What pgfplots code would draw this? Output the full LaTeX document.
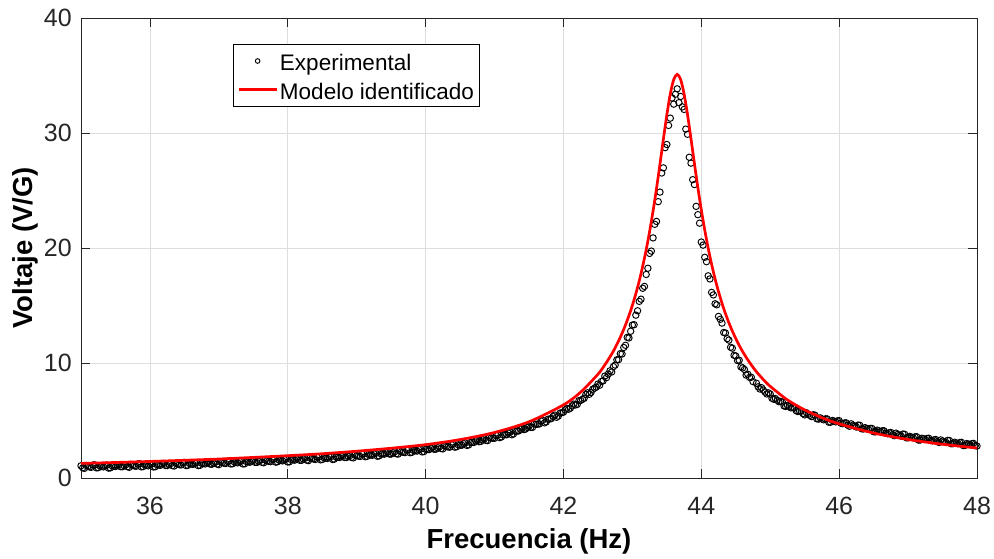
\documentclass[border=0pt]{standalone}
\usepackage{fontspec}
\setmainfont{Liberation Sans}
\usepackage{pgfplots}
\pgfplotsset{compat=1.18}
\definecolor{axgray}{RGB}{38,38,38}
\definecolor{gridgray}{RGB}{222,222,222}
\pgfplotsset{
  legmark/.style={legend image code/.code={\draw[##1, mark size=2.3pt] plot coordinates {(19pt,0pt)};}},
  legline/.style={legend image code/.code={\draw[##1] (0pt,0pt) -- (38pt,0pt);}},
  expdata/.style={only marks, mark=o, mark size=3.2pt, black, mark options={line width=0.95pt, solid}},
}
\begin{document}
\begin{tikzpicture}
\useasboundingbox (-81pt,-80pt) rectangle (913pt,478pt);
\begin{axis}[
  at={(0pt,0pt)}, anchor=south west,
  scale only axis, width=896pt, height=460pt,
  xmin=35, xmax=48, ymin=0, ymax=40,
  xtick={36,38,40,42,44,46,48},
  ytick={0,10,20,30,40},
  tick align=inside, xtick pos=both, ytick pos=both,
  major tick length=9pt,
  tick style={color=axgray, line width=0.75pt},
  axis line style={color=axgray, line width=0.75pt},
  grid=major,
  major grid style={color=gridgray, line width=0.6pt},
  clip mode=individual,
  /pgf/number format/assume math mode=true,
  ticklabel style={font=\fontsize{25}{30}\selectfont, text=axgray, inner sep=0pt},
  xticklabel style={anchor=base, yshift=-36pt},
  yticklabel style={anchor=east, xshift=-9pt},
  xlabel={Frecuencia (Hz)},
  ylabel={Voltaje (V/G)},
  every axis x label/.style={at={(axis description cs:0.5,-0.1522)}, anchor=base, inner sep=0pt, font=\fontsize{27.5}{33}\selectfont\bfseries},
  every axis y label/.style={at={(axis description cs:-0.0536,0.5)}, anchor=base, rotate=90, inner sep=0pt, font=\fontsize{27.5}{33}\selectfont\bfseries},
  legend cell align=left,
  legend style={at={(0.1693,0.9435)}, anchor=north west, draw=black, line width=0.6pt, fill=white,
    inner xsep=4.3pt, inner ysep=4.7pt, row sep=4.6pt, column sep=1pt,
    font=\fontsize{22.5}{27}\selectfont,
    nodes={inner sep=1pt, text height=21pt, text depth=1pt}},
]
\addplot[expdata, legmark]
coordinates {
(35.00,1.06)(35.05,0.84)(35.10,1.01)(35.15,0.93)(35.20,1.14)(35.25,0.90)(35.30,1.01)(35.35,1.08)(35.40,0.86)(35.45,1.07)(35.50,1.00)(35.55,1.16)(35.60,0.98)
(35.65,1.15)(35.70,0.93)(35.75,1.10)(35.80,1.02)(35.85,1.24)(35.90,0.99)(35.95,1.10)(36.00,1.18)(36.05,0.96)(36.10,1.17)(36.15,1.10)(36.20,1.26)(36.25,1.08)
(36.30,1.25)(36.35,1.04)(36.40,1.21)(36.45,1.13)(36.50,1.35)(36.55,1.10)(36.60,1.22)(36.65,1.30)(36.70,1.08)(36.75,1.28)(36.80,1.22)(36.85,1.38)(36.90,1.20)
(36.95,1.37)(37.00,1.16)(37.05,1.34)(37.10,1.26)(37.15,1.48)(37.20,1.24)(37.25,1.35)(37.30,1.43)(37.35,1.22)(37.40,1.43)(37.45,1.37)(37.50,1.53)(37.55,1.35)
(37.60,1.53)(37.65,1.32)(37.70,1.49)(37.75,1.42)(37.80,1.64)(37.85,1.41)(37.90,1.52)(37.95,1.60)(38.00,1.39)(38.05,1.60)(38.10,1.55)(38.15,1.71)(38.20,1.54)
(38.25,1.72)(38.30,1.51)(38.35,1.69)(38.40,1.61)(38.45,1.84)(38.50,1.61)(38.55,1.73)(38.60,1.82)(38.65,1.61)(38.70,1.83)(38.75,1.78)(38.80,1.95)(38.85,1.78)
(38.90,1.95)(38.95,1.75)(39.00,1.93)(39.05,1.87)(39.10,2.10)(39.15,1.88)(39.20,2.00)(39.25,2.10)(39.30,1.89)(39.35,2.11)(39.40,2.07)(39.45,2.24)(39.50,2.08)
(39.55,2.27)(39.60,2.08)(39.65,2.27)(39.70,2.21)(39.75,2.45)(39.80,2.23)(39.85,2.37)(39.90,2.47)(39.95,2.27)(40.00,2.50)(40.05,2.47)(40.10,2.66)(40.15,2.51)
(40.20,2.71)(40.25,2.53)(40.30,2.73)(40.35,2.68)(40.40,2.93)(40.45,2.72)(40.50,2.86)(40.55,2.99)(40.60,2.83)(40.65,3.09)(40.70,3.09)(40.75,3.30)(40.80,3.18)
(40.85,3.40)(40.90,3.25)(40.95,3.47)(41.00,3.45)(41.05,3.74)(41.10,3.57)(41.15,3.76)(41.20,3.91)(41.25,3.76)(41.30,4.06)(41.35,4.09)(41.40,4.34)(41.45,4.25)
(41.50,4.51)(41.55,4.40)(41.60,4.67)(41.65,4.70)(41.70,5.02)(41.75,4.88)(41.80,5.13)(41.85,5.36)(41.90,5.28)(41.95,5.64)(42.00,5.72)(42.05,6.06)(42.10,6.07)
(42.15,6.42)(42.20,6.40)(42.25,6.75)(42.30,6.93)(42.35,7.41)(42.40,7.44)(42.45,7.81)
(42.500,8.17)(42.525,8.07)(42.550,8.40)(42.575,8.45)(42.600,8.86)(42.625,8.73)(42.650,9.04)(42.675,9.32)(42.700,9.22)(42.725,9.69)(42.750,9.82)(42.775,10.28)(42.800,10.29)
(42.825,10.81)(42.850,10.78)(42.875,11.35)(42.900,11.54)(42.925,12.23)(42.950,12.18)(42.975,12.76)(43.000,13.30)(43.025,13.33)(43.050,14.16)(43.075,14.54)(43.100,15.36)(43.125,15.55)
(43.150,16.50)(43.175,16.66)(43.200,17.70)(43.225,18.24)(43.250,19.53)(43.275,19.73)(43.300,20.88)(43.325,22.06)(43.350,22.31)(43.375,24.03)(43.400,24.86)(43.425,26.52)(43.450,26.97)
(43.475,28.73)(43.500,29.00)(43.525,30.66)(43.550,31.29)(43.575,33.05)(43.600,32.51)(43.625,33.37)(43.650,33.84)(43.675,32.64)(43.700,33.18)(43.725,32.27)(43.750,32.05)(43.775,30.34)
(43.800,29.89)(43.825,27.89)(43.850,27.38)(43.875,25.94)(43.900,25.52)(43.925,23.62)(43.950,22.90)(43.975,22.16)(44.000,20.52)(44.025,20.25)(44.050,19.19)(44.075,18.81)(44.100,17.58)
(44.125,17.31)(44.150,16.14)(44.175,15.92)(44.200,15.15)(44.225,15.06)(44.250,14.05)(44.275,13.80)(44.300,13.47)(44.325,12.65)(44.350,12.61)(44.375,12.12)(44.400,11.99)(44.425,11.37)
(44.450,11.29)(44.475,10.67)(44.500,10.61)(44.525,10.22)(44.550,10.24)(44.575,9.66)(44.600,9.57)(44.625,9.44)(44.650,8.95)(44.675,9.02)(44.700,8.75)(44.725,8.76)(44.750,8.38)
(44.80,8.24)(44.85,7.74)(44.90,7.64)(44.95,7.31)(45.00,7.30)(45.05,6.85)(45.10,6.76)(45.15,6.66)(45.20,6.27)(45.25,6.32)(45.30,6.10)(45.35,6.11)(45.40,5.78)
(45.45,5.82)(45.50,5.49)(45.55,5.54)(45.60,5.34)(45.65,5.46)(45.70,5.12)(45.75,5.13)(45.80,5.14)(45.85,4.85)(45.90,5.00)(45.95,4.88)(46.00,4.99)(46.05,4.72)
(46.10,4.80)(46.15,4.50)(46.20,4.59)(46.25,4.43)(46.30,4.58)(46.35,4.26)(46.40,4.30)(46.45,4.31)(46.50,4.02)(46.55,4.16)(46.60,4.02)(46.65,4.11)(46.70,3.86)
(46.75,3.96)(46.80,3.68)(46.85,3.79)(46.90,3.64)(46.95,3.80)(47.00,3.49)(47.05,3.55)(47.10,3.58)(47.15,3.30)(47.20,3.46)(47.25,3.35)(47.30,3.46)(47.35,3.23)
(47.40,3.35)(47.45,3.09)(47.50,3.21)(47.55,3.09)(47.60,3.26)(47.65,2.98)(47.70,3.04)(47.75,3.08)(47.80,2.82)(47.85,2.99)(47.90,2.89)(47.95,3.01)(48.00,2.78)
};
\addlegendentry{Experimental}
\addplot[expdata, forget plot]
coordinates {
(35.025,0.89)(35.075,1.09)(35.125,0.96)(35.175,1.13)(35.225,0.88)(35.275,1.05)(35.325,0.97)(35.375,1.12)(35.425,0.88)(35.475,1.04)(35.525,1.12)(35.575,0.98)(35.625,1.08)
(35.675,0.98)(35.725,1.18)(35.775,1.05)(35.825,1.22)(35.875,0.97)(35.925,1.15)(35.975,1.06)(36.025,1.21)(36.075,0.98)(36.125,1.14)(36.175,1.22)(36.225,1.09)(36.275,1.19)
(36.325,1.08)(36.375,1.28)(36.425,1.16)(36.475,1.33)(36.525,1.08)(36.575,1.26)(36.625,1.18)(36.675,1.33)(36.725,1.10)(36.775,1.26)(36.825,1.34)(36.875,1.21)(36.925,1.31)
(36.975,1.21)(37.025,1.41)(37.075,1.29)(37.125,1.46)(37.175,1.22)(37.225,1.40)(37.275,1.32)(37.325,1.47)(37.375,1.24)(37.425,1.40)(37.475,1.48)(37.525,1.36)(37.575,1.46)
(37.625,1.36)(37.675,1.57)(37.725,1.45)(37.775,1.62)(37.825,1.38)(37.875,1.56)(37.925,1.49)(37.975,1.64)(38.025,1.41)(38.075,1.58)(38.125,1.67)(38.175,1.54)(38.225,1.65)
(38.275,1.55)(38.325,1.76)(38.375,1.65)(38.425,1.82)(38.475,1.58)(38.525,1.77)(38.575,1.70)(38.625,1.86)(38.675,1.64)(38.725,1.81)(38.775,1.90)(38.825,1.78)(38.875,1.89)
(38.925,1.79)(38.975,2.00)(39.025,1.90)(39.075,2.08)(39.125,1.85)(39.175,2.04)(39.225,1.97)(39.275,2.14)(39.325,1.92)(39.375,2.10)(39.425,2.19)(39.475,2.08)(39.525,2.19)
(39.575,2.11)(39.625,2.34)(39.675,2.24)(39.725,2.43)(39.775,2.20)(39.825,2.40)(39.875,2.34)(39.925,2.51)(39.975,2.30)(40.025,2.49)(40.075,2.60)(40.125,2.50)(40.175,2.63)
(40.225,2.56)(40.275,2.79)(40.325,2.70)(40.375,2.90)(40.425,2.68)(40.475,2.89)(40.525,2.85)(40.575,3.05)(40.625,2.88)(40.675,3.10)(40.725,3.23)(40.775,3.16)(40.825,3.31)
(40.875,3.27)(40.925,3.52)(40.975,3.46)(41.025,3.69)(41.075,3.51)(41.125,3.77)(41.175,3.76)(41.225,3.98)(41.275,3.83)(41.325,4.08)(41.375,4.25)(41.425,4.21)(41.475,4.40)
(41.525,4.40)(41.575,4.70)(41.625,4.68)(41.675,4.95)(41.725,4.80)(41.775,5.11)(41.825,5.17)(41.875,5.47)(41.925,5.38)(41.975,5.68)(42.025,5.93)(42.075,5.98)(42.125,6.27)
(42.175,6.35)(42.225,6.73)(42.275,6.84)(42.325,7.27)(42.375,7.28)(42.425,7.72)(42.475,7.90)
(44.825,7.93)(44.875,7.85)(44.925,7.47)(44.975,7.40)(45.025,6.93)(45.075,6.91)(45.125,6.64)(45.175,6.61)(45.225,6.22)(45.275,6.22)(45.325,6.14)(45.375,5.86)(45.425,5.82)
(45.475,5.60)(45.525,5.68)(45.575,5.44)(45.625,5.50)(45.675,5.15)(45.725,5.23)(45.775,5.06)(45.825,5.14)(45.875,4.85)(45.925,4.95)(45.975,4.97)(46.025,4.77)(46.075,4.78)
(46.125,4.59)(46.175,4.71)(46.225,4.51)(46.275,4.60)(46.325,4.28)(46.375,4.38)(46.425,4.23)(46.475,4.31)(46.525,4.01)(46.575,4.10)(46.625,4.10)(46.675,3.90)(46.725,3.93)
(46.775,3.76)(46.825,3.90)(46.875,3.71)(46.925,3.82)(46.975,3.50)(47.025,3.62)(47.075,3.49)(47.125,3.59)(47.175,3.30)(47.225,3.41)(47.275,3.44)(47.325,3.26)(47.375,3.31)
(47.425,3.16)(47.475,3.31)(47.525,3.15)(47.575,3.27)(47.625,2.98)(47.675,3.11)(47.725,2.99)(47.775,3.10)(47.825,2.83)(47.875,2.95)(47.925,2.99)(47.975,2.81)
};
\addplot[red, line width=2.7pt, smooth, legline]
coordinates {
(35,1.27)(35.5,1.35)(36,1.44)(36.5,1.54)(37,1.65)(37.5,1.79)(38,1.94)(38.5,2.11)(39,2.33)(39.5,2.59)(40,2.90)(40.5,3.34)(41,3.96)(41.5,4.89)(42,6.36)(42.25,7.47)
(42.5,9.02)(42.6,9.83)(42.7,10.78)(42.75,11.32)(42.8,11.92)(42.85,12.58)(42.9,13.31)(42.95,14.12)(43.0,15.02)(43.05,16.02)(43.1,17.15)(43.15,18.42)(43.2,19.84)(43.25,21.44)
(43.3,23.22)(43.35,25.17)(43.4,27.29)(43.45,29.47)(43.5,31.58)(43.55,33.40)(43.6,34.65)(43.65,35.10)(43.7,34.65)(43.75,33.40)(43.8,31.60)(43.85,29.51)(43.9,27.35)
(43.95,25.26)(44.0,23.32)(44.05,21.56)(44.1,19.98)(44.15,18.57)(44.2,17.31)(44.25,16.20)(44.3,15.20)(44.35,14.30)(44.4,13.50)(44.45,12.78)(44.5,12.13)(44.55,11.53)
(44.6,10.99)(44.65,10.50)(44.7,10.05)(44.75,9.63)(44.8,9.24)(44.9,8.56)(45.0,7.97)(45.25,6.79)(45.5,5.92)(45.75,5.24)(46,4.71)(46.5,3.91)(47,3.35)(47.5,2.935)(48,2.61)
};
\addlegendentry{Modelo identificado}
\end{axis}
\end{tikzpicture}
\end{document}
